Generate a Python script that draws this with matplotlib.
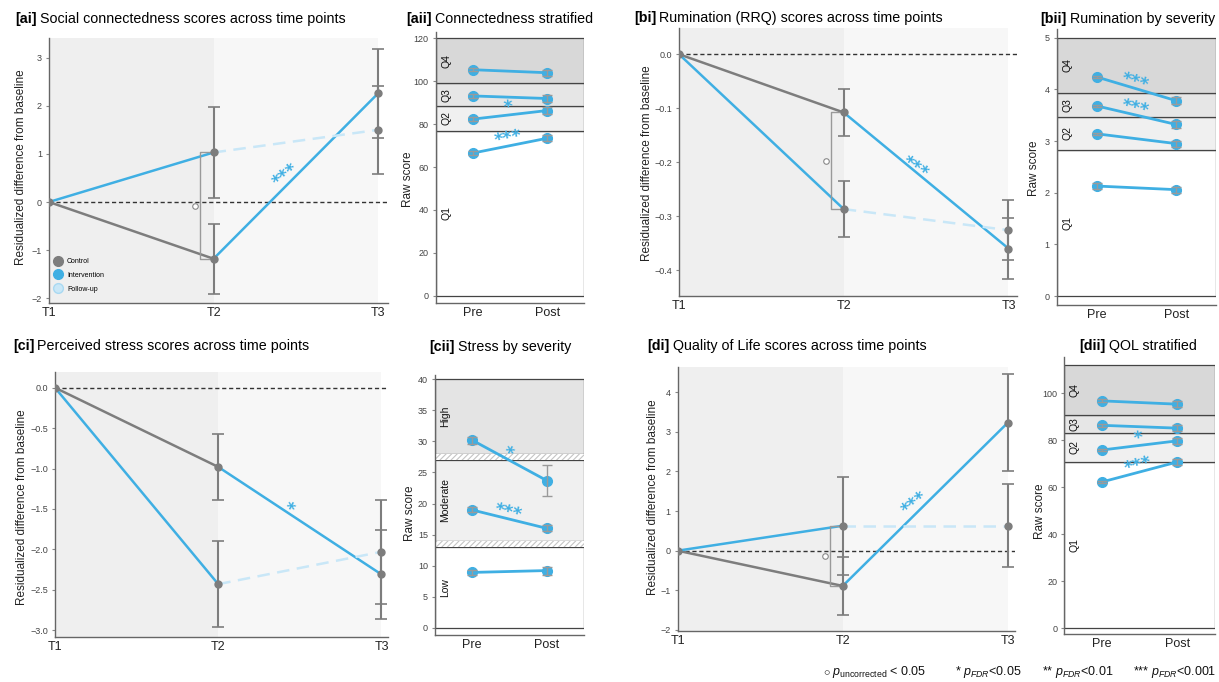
import math
import numpy as np
import matplotlib
matplotlib.use('Agg')
import matplotlib.pyplot as plt
from matplotlib.patches import Rectangle
from matplotlib.lines import Line2D

plt.rcParams['font.family'] = ['Liberation Sans', 'DejaVu Sans']
plt.rcParams['mathtext.fontset'] = 'custom'
plt.rcParams['mathtext.rm'] = 'Liberation Sans'
plt.rcParams['mathtext.it'] = 'Liberation Sans:italic'
plt.rcParams['hatch.linewidth'] = 0.8

W, H = 1219, 682
BLUE = '#3fafe3'
GREY = '#7d7d7d'
LIGHT = '#c9e7f7'

timepoints = ['T1', 'T2', 'T3']
phases = ['Pre', 'Post']

# time-course panels: T2 = [control, intervention], T3 = [control after crossover, intervention follow-up]
ai_t2 = [-1.18, 1.03]
ai_t2_err = [0.73, 0.94]
ai_t3 = [2.26, 1.50]
ai_t3_err = [0.92, 0.92]

bi_t2 = [-0.108, -0.287]
bi_t2_err = [0.044, 0.052]
bi_t3 = [-0.360, -0.326]
bi_t3_err = [0.057, 0.055]

ci_t2 = [-0.98, -2.43]
ci_t2_err = [0.41, 0.53]
ci_t3 = [-2.31, -2.03]
ci_t3_err = [0.55, 0.64]

di_t2 = [-0.89, 0.63]
di_t2_err = [0.73, 1.24]
di_t3 = [3.23, 0.63]
di_t3_err = [1.22, 1.05]

# stratified panels (lowest band first)
aii_bands = [0, 77, 88.2, 99, 120]
aii_labels = ['Q1', 'Q2', 'Q3', 'Q4']
aii_pre = [66.5, 82.3, 93.1, 105.3]
aii_post = [73.4, 86.3, 91.9, 103.9]
aii_pre_err = [0.8, 0.8, 0.8, 0.8]
aii_post_err = [1.5, 1.5, 1.5, 1.5]
aii_sig = ['***', '*', '', '']

bii_bands = [0, 2.83, 3.47, 3.92, 5]
bii_labels = ['Q1', 'Q2', 'Q3', 'Q4']
bii_pre = [2.13, 3.14, 3.68, 4.24]
bii_post = [2.06, 2.95, 3.32, 3.78]
bii_pre_err = [0.06, 0.02, 0.02, 0.02]
bii_post_err = [0.06, 0.06, 0.07, 0.07]
bii_sig = ['', '', '***', '***']

cii_bands = [(0, 13), (14, 27), (28, 40)]
cii_labels = ['Low', 'Moderate', 'High']
cii_pre = [8.9, 18.96, 30.2]
cii_post = [9.2, 16.0, 23.7]
cii_pre_err = [0.4, 0.4, 0.55]
cii_post_err = [0.65, 0.5, 2.45]
cii_sig = ['', '***', '*']

dii_bands = [0, 71, 83, 91, 112]
dii_labels = ['Q1', 'Q2', 'Q3', 'Q4']
dii_pre = [62.3, 75.9, 86.4, 96.8]
dii_post = [70.8, 79.8, 85.2, 95.4]
dii_pre_err = [0.6, 0.6, 0.6, 0.6]
dii_post_err = [1.4, 1.4, 1.4, 1.4]
dii_sig = ['***', '*', '', '']

fig = plt.figure(figsize=(W / 100, H / 100), dpi=100)
renderer = fig.canvas.get_renderer()


def px(l, t, r, b):
    return [l / W, 1 - b / H, (r - l) / W, (b - t) / H]


def style(ax):
    for s in ['top', 'right']:
        ax.spines[s].set_visible(False)
    for s in ['left', 'bottom']:
        ax.spines[s].set_color('#666666')
        ax.spines[s].set_linewidth(1.0)
    ax.tick_params(axis='y', labelsize=6.5, labelcolor='#444444', length=2.5, color='#888888', pad=2.5)
    ax.tick_params(axis='x', labelsize=9, labelcolor='#222222', length=0, pad=3)


def stars(ax, label, x, y, ang, dx, dy):
    ax.annotate(label, (x, y), xytext=(dx, dy), textcoords='offset points', rotation=ang,
                ha='center', va='center', color=BLUE, fontsize=12.5, fontweight='bold',
                family='DejaVu Sans', zorder=5)


def time_panel(rect, t2, t2_err, t3, t3_err, ylim, yticks, xmax, sig, bracket=True):
    ax = fig.add_axes(px(*rect))
    ax.set_xlim(0, xmax)
    ax.set_ylim(ylim)
    ax.axvspan(0, 1, color='#efefef', lw=0, zorder=0)
    ax.axvspan(1, 2, color='#f7f7f7', lw=0, zorder=0)
    ax.axhline(0, color='#333333', lw=1, ls=(0, (3, 2)), zorder=1)
    ctrl, intv = t2
    cross, follow = t3
    ax.plot([0, 1], [0, ctrl], color=GREY, lw=1.8, zorder=2)
    ax.plot([0, 1], [0, intv], color=BLUE, lw=1.8, zorder=2)
    ax.plot([1, 2], [ctrl, cross], color=BLUE, lw=1.8, zorder=2)
    ax.plot([1, 2], [intv, follow], color=LIGHT, lw=1.8, ls=(0, (5, 3)), zorder=2)
    ax.errorbar([1, 1], t2, yerr=t2_err, fmt='none', ecolor=GREY, elinewidth=1.5,
                capsize=4, capthick=1.2, zorder=3)
    ax.errorbar([2, 2], t3, yerr=t3_err, fmt='none', ecolor=GREY, elinewidth=1.5,
                capsize=4, capthick=1.2, zorder=3)
    ax.plot([0, 1, 1, 2, 2], [0, ctrl, intv, cross, follow], 'o', color=GREY, ms=5, zorder=4)
    if bracket:
        bx = 0.92
        ax.plot([0.985, bx, bx, 0.985], [intv, intv, ctrl, ctrl], color='#999999', lw=1, zorder=3)
        ax.plot([bx - 0.03], [(intv + ctrl) / 2], 'o', mfc='white', mec='#888888', mew=0.8, ms=4, zorder=4)
    p1 = ax.transData.transform((1, ctrl))
    p2 = ax.transData.transform((2, cross))
    ang = math.degrees(math.atan2(p2[1] - p1[1], p2[0] - p1[0])) * 0.85
    sx = 1.46
    sy = ctrl + (sx - 1) * (cross - ctrl)
    stars(ax, sig, sx, sy, ang, -3, 5)
    ax.set_xticks([0, 1, 2])
    ax.set_xticklabels(timepoints)
    ax.set_yticks(yticks)
    style(ax)
    return ax


def strat_panel(rect, ylim, yticks, bands, labels, colors, pre, post, pre_err, post_err, sig, gaps=()):
    ax = fig.add_axes(px(*rect))
    ax.set_xlim(-0.5, 1.5)
    ax.set_ylim(ylim)
    for (lo, hi), lab, c in zip(bands, labels, colors):
        ax.add_patch(Rectangle((-0.5, lo), 2, hi - lo, fc=c, ec='#444444', lw=0.9, zorder=0))
        ax.text(-0.36, (lo + hi) / 2, lab, rotation=90, ha='center', va='center', fontsize=7.5, color='#111111')
    for lo, hi in gaps:
        ax.add_patch(Rectangle((-0.5, lo), 2, hi - lo, fc='white', ec='#c4c4c4', lw=0,
                               hatch='//////', zorder=0))
    for i in range(len(pre)):
        ax.plot([0, 1], [pre[i], post[i]], color=BLUE, lw=2, marker='o', ms=7, zorder=2)
        ax.errorbar([0, 1], [pre[i], post[i]], yerr=[pre_err[i], post_err[i]], fmt='none',
                    ecolor='#9a9a9a', elinewidth=1, capsize=3.5, capthick=1, zorder=3)
        if sig[i]:
            p1 = ax.transData.transform((0, pre[i]))
            p2 = ax.transData.transform((1, post[i]))
            ang = math.degrees(math.atan2(p2[1] - p1[1], p2[0] - p1[0]))
            sx = 0.5
            sy = pre[i] + sx * (post[i] - pre[i])
            stars(ax, sig[i], sx, sy, ang, -1, 5)
    ax.set_xticks([0, 1])
    ax.set_xticklabels(phases)
    ax.set_yticks(yticks)
    style(ax)
    return ax


# [ai]
ax_ai = time_panel((49, 38, 388, 303), ai_t2, ai_t2_err, ai_t3, ai_t3_err,
                   (-2.1, 3.41), range(-2, 4), 2.06, '***')
hand = [Line2D([], [], marker='o', ls='', mfc=GREY, mec=GREY, ms=7),
        Line2D([], [], marker='o', ls='', mfc=BLUE, mec=BLUE, ms=7),
        Line2D([], [], marker='o', ls='', mfc=LIGHT, mec='#a9d9f2', ms=7)]
ax_ai.legend(hand, ['Control', 'Intervention', 'Follow-up'], loc='lower left',
             bbox_to_anchor=(-0.008, 0.02), fontsize=5, frameon=False, handletextpad=0.3,
             labelspacing=1.0, borderaxespad=0.3)

# [bi]
time_panel((679, 28.3, 1016.7, 296), bi_t2, bi_t2_err, bi_t3, bi_t3_err,
           (-0.448, 0.048), [-0.4, -0.3, -0.2, -0.1, 0.0], 2.05, '***')

# [ci]
time_panel((55, 371.7, 388, 636.7), ci_t2, ci_t2_err, ci_t3, ci_t3_err,
           (-3.08, 0.198), [-3.0, -2.5, -2.0, -1.5, -1.0, -0.5, 0.0], 2.04, '*', bracket=False)

# [di]
time_panel((677.7, 367.3, 1015, 630.7), di_t2, di_t2_err, di_t3, di_t3_err,
           (-2.02, 4.63), range(-2, 5), 2.044, '***')

q_colors = ['white', '#f0f0f0', '#e6e6e6', '#d8d8d8']

strat_panel((435.7, 31.7, 584.3, 303), (-3.3, 123), range(0, 121, 20),
            list(zip(aii_bands[:-1], aii_bands[1:])), aii_labels, q_colors,
            aii_pre, aii_post, aii_pre_err, aii_post_err, aii_sig)

strat_panel((1056.7, 29.3, 1216, 305), (-0.17, 5.16), range(0, 6),
            list(zip(bii_bands[:-1], bii_bands[1:])), bii_labels, q_colors,
            bii_pre, bii_post, bii_pre_err, bii_post_err, bii_sig)

strat_panel((435, 375, 584, 635), (-1.18, 40.7), range(0, 41, 5),
            cii_bands, cii_labels, ['white', '#f0f0f0', '#e4e4e4'],
            cii_pre, cii_post, cii_pre_err, cii_post_err, cii_sig,
            gaps=[(13, 14), (27, 28)])

strat_panel((1064.3, 356.7, 1215, 634), (-2.4, 115.6), range(0, 101, 20),
            list(zip(dii_bands[:-1], dii_bands[1:])), dii_labels, q_colors,
            dii_pre, dii_post, dii_pre_err, dii_post_err, dii_sig)

# titles: bold tag followed by plain text
titles = [(15, 19, '[ai]', 'Social connectedness scores across time points'),
          (406.7, 19, '[aii]', 'Connectedness stratified'),
          (634, 18.3, '[bi]', 'Rumination (RRQ) scores across time points'),
          (1040.7, 19, '[bii]', 'Rumination by severity'),
          (13, 345.7, '[ci]', 'Perceived stress scores across time points'),
          (429.3, 346.7, '[cii]', 'Stress by severity'),
          (647.3, 346, '[di]', 'Quality of Life scores across time points'),
          (1079.3, 346, '[dii]', 'QOL stratified')]
for x, y, tag, txt in titles:
    t = fig.text(x / W, 1 - y / H, tag, fontsize=10.3, fontweight='bold', ha='left', va='center')
    bb = t.get_window_extent(renderer)
    fig.text((bb.x1 + 3) / W, 1 - y / H, txt, fontsize=10.3, ha='left', va='center')

# y labels
ylabels = [(21, 166.7, 'Residualized difference from baseline'),
           (646.7, 163, 'Residualized difference from baseline'),
           (22, 506.7, 'Residualized difference from baseline'),
           (652.7, 496.7, 'Residualized difference from baseline'),
           (408.3, 179.3, 'Raw score'),
           (1034, 168.3, 'Raw score'),
           (410, 513.3, 'Raw score'),
           (1040, 511.7, 'Raw score')]
for x, y, txt in ylabels:
    fig.text(x / W, 1 - y / H, txt, rotation=90, fontsize=8.5, ha='center', va='center', color='#222222')

# significance key
keys = [(823, r'$\circ$ $p_{\mathrm{uncorrected}}$ < 0.05'),
        (955, r'* $p_{FDR}$<0.05'),
        (1042, r'** $p_{FDR}$<0.01'),
        (1133, r'*** $p_{FDR}$<0.001')]
for x, txt in keys:
    fig.text(x / W, 1 - 672 / H, txt, fontsize=9, ha='left', va='center', color='#111111')

fig.savefig('out.png', dpi=100)
